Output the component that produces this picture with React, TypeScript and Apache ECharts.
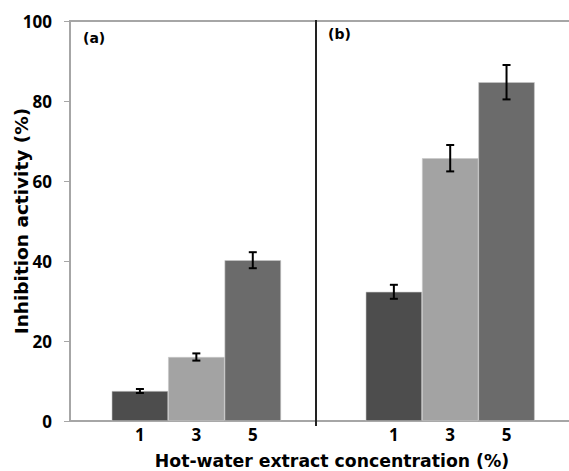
import React, { useEffect, useRef } from "react";
import * as echarts from "echarts";

const concentrations = ["1", "3", "5"];
const panelAValues = [7.5, 16.0, 40.2];
const panelAErrors = [0.5, 0.9, 2.0];
const panelBValues = [32.3, 65.7, 84.7];
const panelBErrors = [1.75, 3.3, 4.3];
const barColors = ["#4d4d4d", "#a3a3a3", "#6b6b6b"];

const FONT = "'Open Sans', 'Noto Sans', sans-serif";
const TITLE_FONT = "'DejaVu Sans', sans-serif";

function errorSeries(xIndex: number, yIndex: number, values: number[], errs: number[]) {
  return {
    type: "custom",
    xAxisIndex: xIndex,
    yAxisIndex: yIndex,
    z: 10,
    data: values.map((v, i) => [i, v, errs[i]]),
    renderItem: (params: any, api: any) => {
      const i = api.value(0);
      const v = api.value(1);
      const e = api.value(2);
      const top = api.coord([i, v + e]);
      const bot = api.coord([i, v - e]);
      const hw = 4;
      const style = { stroke: "#000", lineWidth: 2 };
      return {
        type: "group",
        children: [
          { type: "line", shape: { x1: top[0], y1: top[1], x2: bot[0], y2: bot[1] }, style },
          { type: "line", shape: { x1: top[0] - hw, y1: top[1], x2: top[0] + hw, y2: top[1] }, style },
          { type: "line", shape: { x1: bot[0] - hw, y1: bot[1], x2: bot[0] + hw, y2: bot[1] }, style },
        ],
      };
    },
  };
}

function barSeries(xIndex: number, yIndex: number, values: number[]) {
  return {
    type: "bar",
    xAxisIndex: xIndex,
    yAxisIndex: yIndex,
    barCategoryGap: 0,
    barWidth: "100%",
    data: values.map((v, i) => ({
      value: v,
      itemStyle: { color: barColors[i], borderColor: "#c8c8c8", borderWidth: 0.6 },
    })),
  };
}

export default function App() {
  const ref = useRef<HTMLDivElement>(null);
  useEffect(() => {
    if (!ref.current) return;
    const chart = echarts.init(ref.current, null, { renderer: "svg" });
    const innerX = (gridIndex: number) => ({
      type: "category",
      gridIndex,
      data: concentrations,
      axisLine: { show: false },
      axisTick: { show: false },
      axisLabel: { color: "#000", fontWeight: "bold", fontSize: 17, fontFamily: FONT, margin: 5 },
    });
    const innerY = (gridIndex: number) => ({
      type: "value",
      gridIndex,
      min: 0,
      max: 100,
      interval: 20,
      show: false,
      splitLine: { show: false },
    });
    chart.setOption({
      animation: false,
      backgroundColor: "#fff",
      grid: [
        { left: 70, top: 21, width: 514, height: 400, outerBoundsMode: "none", containLabel: false, show: true, borderColor: "#a6a6a6", borderWidth: 2, backgroundColor: "transparent" },
        { left: 111.7, top: 21, width: 169.3, height: 400, outerBoundsMode: "none", containLabel: false },
        { left: 365.7, top: 21, width: 169, height: 400, outerBoundsMode: "none", containLabel: false },
      ],
      xAxis: [
        {
          type: "category",
          gridIndex: 0,
          data: [""],
          axisLine: { show: true, lineStyle: { color: "#a6a6a6", width: 2 } },
          axisTick: { show: false },
          axisLabel: { show: false },
          name: "Hot-water extract concentration (%)",
          nameLocation: "middle",
          nameGap: 31,
          nameMoveOverlap: false,
          nameTextStyle: { color: "#000", fontWeight: "bold", fontSize: 17.3, fontFamily: TITLE_FONT, verticalAlign: "top", padding: [0, 0, 0, 10] },
        },
        innerX(1),
        innerX(2),
      ],
      yAxis: [
        {
          type: "value",
          gridIndex: 0,
          min: 0,
          max: 100,
          interval: 20,
          axisLine: { show: true, lineStyle: { color: "#a6a6a6", width: 2 } },
          axisTick: { show: true, length: 6, lineStyle: { color: "#a6a6a6", width: 1 } },
          axisLabel: { color: "#000", fontWeight: "bold", fontSize: 17, fontFamily: FONT, margin: 18 },
          splitLine: { show: false },
          name: "Inhibition activity (%)",
          nameLocation: "middle",
          nameGap: 49,
          nameRotate: 90,
          nameMoveOverlap: false,
          nameTextStyle: { color: "#000", fontWeight: "bold", fontSize: 18.5, fontFamily: TITLE_FONT, verticalAlign: "middle" },
        },
        innerY(1),
        innerY(2),
      ],
      series: [
        barSeries(1, 1, panelAValues),
        errorSeries(1, 1, panelAValues, panelAErrors),
        barSeries(2, 2, panelBValues),
        errorSeries(2, 2, panelBValues, panelBErrors),
      ],
      graphic: [
        { type: "line", shape: { x1: 316, y1: 20, x2: 316, y2: 426 }, style: { stroke: "#222", lineWidth: 2 }, z: 20 },
        { type: "text", left: 83, top: 31, z: 30, style: { text: "(a)", fill: "#000", fontSize: 14, fontWeight: "bold", fontFamily: TITLE_FONT } },
        { type: "text", left: 328, top: 27, z: 30, style: { text: "(b)", fill: "#000", fontSize: 14, fontWeight: "bold", fontFamily: TITLE_FONT } },
      ],
    });
    return () => chart.dispose();
  }, []);
  return <div ref={ref} style={{ position: "fixed", left: 0, top: 0, width: 569, height: 471 }} />;
}
